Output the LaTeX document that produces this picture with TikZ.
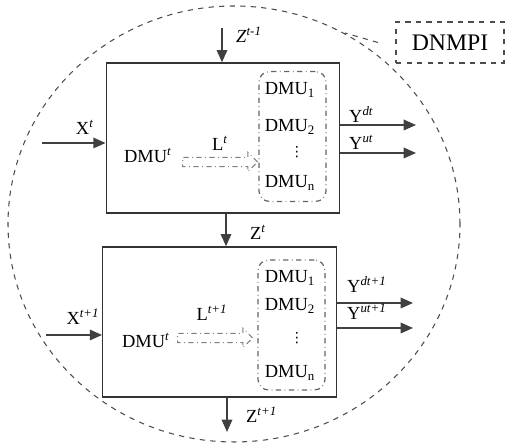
\documentclass[tikz,border=0pt]{standalone}
\usepackage{fontspec}
\setmainfont{Liberation Serif}
\newfontfamily\symfont{DejaVu Sans}
\usetikzlibrary{positioning,arrows.meta,shapes.arrows}
\newcommand{\per}[1]{\textsuperscript{\textit{#1}}}
\begin{document}
\begin{tikzpicture}[x=0.02cm,y=0.02cm,font=\fontsize{10.5}{12}\selectfont]
\tikzstyle{stage} = [rectangle, draw=black!80, line width=0.8pt, minimum width=4.67cm, minimum height=3cm]
\tikzstyle{group} = [rectangle, rounded corners=6pt, draw=black!60, dash dot, line width=0.7pt, minimum width=1.34cm, minimum height=2.6cm]
\tikzstyle{flow} = [-{Triangle[length=7pt,width=6pt]}, draw=black!75, line width=0.9pt]
\tikzstyle{link} = [single arrow, draw=black!50, dash dot, line width=0.6pt, minimum height=1.5cm, minimum width=11pt, single arrow head extend=2pt, inner sep=1.5pt]
\tikzstyle{dots} = [inner sep=0pt, font=\symfont\fontsize{8}{9}\selectfont]
\useasboundingbox (0,0) rectangle (505,445);
% outer boundary
\draw[dashed, black!70, line width=0.6pt] (234,221) ellipse [x radius=226, y radius=218];
\node (lab)[draw=black!70, dashed, line width=0.6pt, minimum width=2.16cm, minimum height=0.82cm, font=\fontsize{13.5}{15}\selectfont] at (450,402.5) {DNMPI};
\coordinate (rim) at (345,412);
\draw[dashed, black!70, line width=0.6pt] ([xshift=-10pt]lab.west) -- (rim);
% period t
\node (Pt)[stage] at (223,307) {};
\node (Gt)[group] at (292.5,308.5) {};
\node (Gt1) at (290,355) {DMU\textsubscript{1}};
\node (Gt2) at (290,318) {DMU\textsubscript{2}};
\node (Gtd)[dots] at (297,293) {⋮};
\node (Gtn) at (290,262) {DMU\textsubscript{n}};
\node (Dt) at (148,290) {DMU\per{t}};
\node (Lt)[link, anchor=west] at (182,283) {};
\node (Llt) at (220,302) {L\per{t}};
\coordinate (Zin) at (222,417);
\node (Zint)[anchor=west] at (230,410) {\textit{Z}\per{t-1}};
\draw[flow] (Zin) -- (Zin |- Pt.north);
\coordinate (Xt) at (42,302);
\node (Xlt) at (85,318) {X\per{t}};
\draw[flow] (Xt) -- (Xt -| Pt.west);
\coordinate (Ydt) at (416,320);
\coordinate (Yut) at (416,292);
\draw[flow] (Ydt -| Pt.east) -- (Ydt);
\draw[flow] (Yut -| Pt.east) -- (Yut);
\node (Ydlt)[anchor=west] at (343,330) {Y\per{dt}};
\node (Yult)[anchor=west] at (343,303) {Y\per{ut}};
% period t+1
\node (Pn)[stage] at (219.5,123) {};
\node (Gn)[group] at (291.5,120) {};
\node (Gn1) at (290,167) {DMU\textsubscript{1}};
\node (Gn2) at (290,139) {DMU\textsubscript{2}};
\node (Gnd)[dots] at (297,107) {⋮};
\node (Gnn) at (290,72) {DMU\textsubscript{n}};
\node (Dn) at (146,105) {DMU\per{t}};
\node (Ln)[link, anchor=west] at (177,107) {};
\node (Lln) at (212,132) {L\per{t+1}};
\node (Zt)[anchor=west] at (244,213) {Z\per{t}};
\draw[flow] (226,0 |- Pt.south) -- (226,0 |- Pn.north);
\coordinate (Xn) at (46,110);
\node (Xln) at (83,128) {X\per{t+1}};
\draw[flow] (Xn) -- (Xn -| Pn.west);
\coordinate (Ydn) at (413,142);
\coordinate (Yun) at (413,117);
\draw[flow] (Ydn -| Pn.east) -- (Ydn);
\draw[flow] (Yun -| Pn.east) -- (Yun);
\node (Ydln)[anchor=west] at (341,160) {Y\per{dt+1}};
\node (Yuln)[anchor=west] at (341,133) {Y\per{ut+1}};
\coordinate (Zout) at (227,13);
\draw[flow] (Zout |- Pn.south) -- (Zout);
\node (Zoutl)[anchor=west] at (240,30) {Z\per{t+1}};
\end{tikzpicture}
\end{document}
